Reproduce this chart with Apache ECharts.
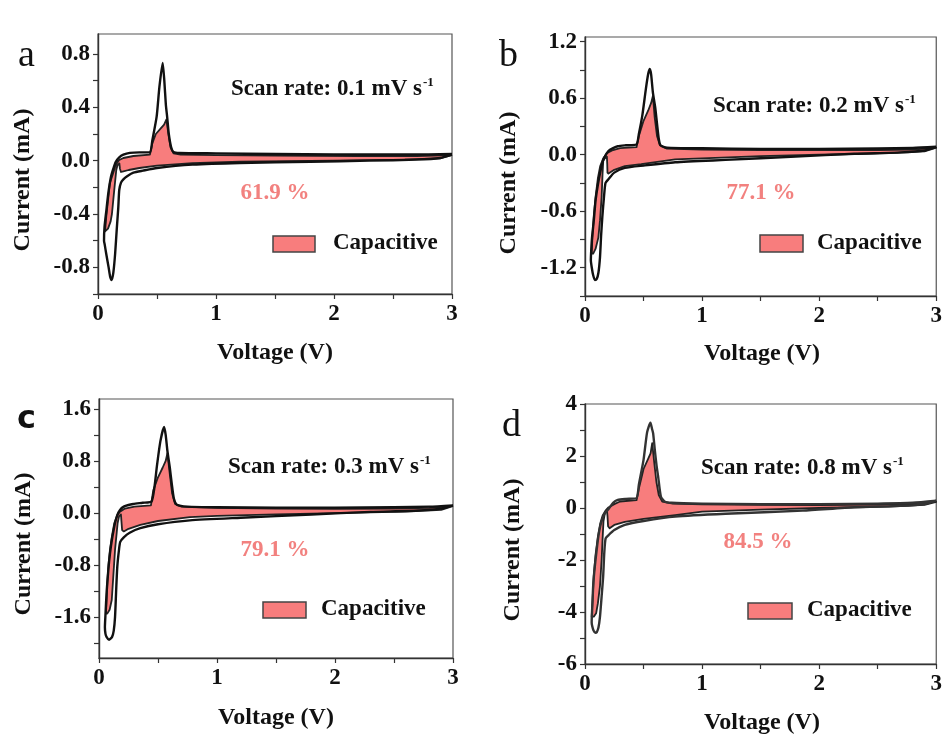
<!DOCTYPE html>
<html>
<head>
<meta charset="utf-8">
<title>CV capacitive contribution</title>
<script src="https://cdn.jsdelivr.net/npm/echarts@6/dist/echarts.min.js"></script>
<style>
  html, body { margin: 0; padding: 0; background: #fff; }
  #chart { width: 945px; height: 736px; }
</style>
</head>
<body>
<div id="chart"></div>
<script>
// Voltage ticks shared by all four panels
const xTicks = [0, 1, 2, 3];
const xMinorTicks = [0.5, 1.5, 2.5];

// Current ticks per panel
const yTicksA = [-0.8, -0.4, 0, 0.4, 0.8];
const yMinorA = [-1.0, -0.6, -0.2, 0.2, 0.6];
const yTicksB = [-1.2, -0.6, 0, 0.6, 1.2];
const yMinorB = [-1.5, -0.9, -0.3, 0.3, 0.9];
const yTicksC = [-1.6, -0.8, 0, 0.8, 1.6];
const yMinorC = [-2.0, -1.2, -0.4, 0.4, 1.2];
const yTicksD = [-6, -4, -2, 0, 2, 4];
const yMinorD = [-5, -3, -1, 1, 3];

const scanRates = ['0.1', '0.2', '0.3', '0.8'];
const capacitiveShare = ['61.9 %', '77.1 %', '79.1 %', '84.5 %'];
const panelLetters = ['a', 'b', 'c', 'd'];

// Measured CV loops [V, mA]: cathodic sweep from 3 V down, then anodic sweep back up
const loopA = [
  [3.0,0.045],[2.9,0.02],[2.7,0.008],[2.3,0.0],[1.8,-0.008],[1.2,-0.017],[0.8,-0.03],[0.5,-0.055],
  [0.38,-0.075],[0.3,-0.09],[0.25,-0.115],[0.215,-0.14],[0.195,-0.165],[0.18,-0.22],[0.172,-0.35],
  [0.16,-0.5],[0.145,-0.7],[0.13,-0.84],[0.116,-0.895],[0.103,-0.87],[0.09,-0.8],[0.07,-0.7],
  [0.057,-0.63],[0.051,-0.6],
  [0.055,-0.5],[0.07,-0.38],[0.088,-0.24],[0.11,-0.12],[0.13,-0.06],[0.15,-0.01],[0.18,0.025],
  [0.215,0.045],[0.27,0.058],[0.35,0.062],[0.44,0.062],[0.46,0.15],[0.497,0.33],[0.52,0.55],
  [0.548,0.733],[0.562,0.6],[0.575,0.42],[0.587,0.32],[0.6,0.2],[0.62,0.1],[0.64,0.065],
  [0.69,0.058],[1.0,0.055],[1.5,0.05],[2.0,0.047],[2.5,0.046],[2.8,0.047],[3.0,0.05]
];
const capA = [
  [0.06,-0.53],[0.07,-0.42],[0.088,-0.27],[0.1,-0.17],[0.13,-0.09],[0.15,-0.03],[0.18,0.005],
  [0.215,0.02],[0.3,0.035],[0.44,0.045],[0.46,0.13],[0.49,0.2],[0.53,0.24],[0.56,0.27],
  [0.58,0.31],[0.595,0.21],[0.615,0.1],[0.64,0.055],[0.7,0.045],[1.0,0.042],[1.5,0.038],
  [2.2,0.035],[2.7,0.035],[3.0,0.042],
  [2.9,0.018],[2.6,0.008],[2.0,0.0],[1.2,-0.008],[0.8,-0.018],[0.5,-0.037],[0.35,-0.055],
  [0.26,-0.07],[0.215,-0.08],[0.195,-0.085],[0.186,-0.06],[0.181,-0.02],[0.165,-0.035],
  [0.155,-0.07],[0.14,-0.2],[0.13,-0.29],[0.118,-0.4],[0.107,-0.455],[0.085,-0.51]
];

const loopB = [
  [3.0,0.08],[2.9,0.045],[2.7,0.025],[2.3,0.01],[1.8,-0.02],[1.2,-0.055],[0.77,-0.08],[0.5,-0.115],
  [0.34,-0.14],[0.25,-0.19],[0.2,-0.26],[0.175,-0.3],[0.162,-0.45],[0.148,-0.66],[0.138,-0.85],
  [0.128,-1.09],[0.115,-1.25],[0.1,-1.32],[0.085,-1.33],[0.07,-1.28],[0.058,-1.2],[0.05,-1.12],
  [0.053,-1.02],[0.06,-0.88],[0.075,-0.7],[0.09,-0.49],[0.11,-0.32],[0.128,-0.2],[0.145,-0.1],
  [0.165,-0.03],[0.2,0.04],[0.24,0.07],[0.28,0.09],[0.35,0.1],[0.44,0.11],[0.46,0.22],
  [0.49,0.42],[0.52,0.7],[0.54,0.86],[0.554,0.91],[0.565,0.85],[0.58,0.66],[0.6,0.5],
  [0.615,0.33],[0.63,0.17],[0.645,0.1],[0.7,0.075],[1.0,0.068],[1.5,0.062],[2.0,0.062],
  [2.5,0.066],[2.8,0.072],[3.0,0.085]
];
const capB = [
  [0.057,-1.05],[0.063,-0.88],[0.075,-0.65],[0.09,-0.45],[0.11,-0.25],[0.13,-0.12],[0.155,-0.04],
  [0.19,0.02],[0.24,0.05],[0.3,0.07],[0.44,0.08],[0.46,0.2],[0.5,0.36],[0.54,0.47],[0.565,0.55],
  [0.58,0.625],[0.595,0.4],[0.615,0.2],[0.64,0.1],[0.7,0.065],[1.0,0.055],[1.5,0.05],[2.0,0.048],
  [2.5,0.05],[2.8,0.055],[3.0,0.075],
  [2.9,0.035],[2.6,0.018],[2.0,0.0],[1.5,-0.015],[1.17,-0.03],[0.77,-0.05],[0.48,-0.1],
  [0.34,-0.12],[0.25,-0.16],[0.2,-0.2],[0.192,-0.19],[0.19,-0.1],[0.187,-0.02],[0.168,-0.04],
  [0.156,-0.064],[0.15,-0.2],[0.142,-0.45],[0.128,-0.7],[0.114,-0.88],[0.09,-1.0],[0.07,-1.05]
];

const loopC = [
  [3.0,0.12],[2.9,0.07],[2.7,0.04],[2.3,0.02],[1.8,-0.02],[1.2,-0.07],[0.77,-0.11],[0.5,-0.17],
  [0.35,-0.23],[0.26,-0.3],[0.21,-0.37],[0.18,-0.44],[0.17,-0.55],[0.155,-0.82],[0.145,-1.2],
  [0.136,-1.59],[0.125,-1.8],[0.11,-1.9],[0.085,-1.94],[0.065,-1.9],[0.055,-1.85],[0.05,-1.75],
  [0.055,-1.55],[0.065,-1.2],[0.08,-0.85],[0.093,-0.62],[0.11,-0.4],[0.125,-0.25],[0.136,-0.15],
  [0.155,-0.03],[0.178,0.05],[0.21,0.1],[0.25,0.125],[0.29,0.14],[0.37,0.16],[0.445,0.18],
  [0.47,0.4],[0.49,0.71],[0.52,1.1],[0.551,1.32],[0.565,1.2],[0.58,0.95],[0.6,0.7],[0.616,0.46],
  [0.635,0.22],[0.66,0.13],[0.75,0.1],[1.0,0.09],[1.5,0.085],[2.0,0.085],[2.5,0.09],
  [2.8,0.1],[3.0,0.12]
];
const capC = [
  [0.059,-1.54],[0.065,-1.3],[0.07,-1.07],[0.08,-0.8],[0.093,-0.56],[0.11,-0.35],[0.13,-0.15],
  [0.155,-0.03],[0.175,0.02],[0.22,0.07],[0.3,0.1],[0.44,0.12],[0.46,0.35],[0.5,0.55],[0.54,0.7],
  [0.565,0.8],[0.58,0.92],[0.6,0.6],[0.62,0.3],[0.645,0.14],[0.7,0.1],[1.0,0.08],[1.5,0.07],
  [2.0,0.065],[2.5,0.07],[2.8,0.08],[3.0,0.11],
  [2.9,0.05],[2.6,0.025],[2.0,0.0],[1.5,-0.02],[1.0,-0.04],[0.77,-0.06],[0.5,-0.12],[0.35,-0.18],
  [0.25,-0.24],[0.21,-0.28],[0.196,-0.26],[0.19,-0.12],[0.186,-0.02],[0.17,-0.05],[0.158,-0.15],
  [0.15,-0.3],[0.136,-0.56],[0.12,-1.0],[0.108,-1.33],[0.09,-1.48],[0.07,-1.54]
];

const loopD = [
  [3.0,0.28],[2.9,0.15],[2.7,0.08],[2.3,0.03],[1.86,-0.1],[1.2,-0.22],[0.77,-0.33],[0.5,-0.5],
  [0.34,-0.65],[0.25,-0.85],[0.2,-1.05],[0.176,-1.17],[0.165,-1.7],[0.155,-2.64],[0.142,-3.4],
  [0.128,-4.18],[0.115,-4.6],[0.1,-4.78],[0.088,-4.8],[0.072,-4.7],[0.062,-4.55],[0.057,-4.4],
  [0.06,-4.0],[0.065,-3.5],[0.071,-2.9],[0.085,-2.2],[0.1,-1.6],[0.114,-1.1],[0.13,-0.7],
  [0.15,-0.4],[0.17,-0.2],[0.2,-0.05],[0.24,0.2],[0.28,0.31],[0.35,0.35],[0.44,0.38],[0.46,0.9],
  [0.5,1.85],[0.53,2.9],[0.559,3.28],[0.572,3.05],[0.582,2.87],[0.597,2.2],[0.612,1.6],
  [0.625,1.2],[0.648,0.44],[0.68,0.25],[0.74,0.2],[1.0,0.17],[1.5,0.15],[2.0,0.15],[2.5,0.17],
  [2.8,0.2],[3.0,0.28]
];
const capD = [
  [0.057,-4.18],[0.065,-3.5],[0.075,-2.6],[0.09,-1.8],[0.11,-1.1],[0.13,-0.6],[0.15,-0.3],
  [0.175,-0.1],[0.2,0.02],[0.25,0.15],[0.3,0.25],[0.44,0.3],[0.46,0.75],[0.5,1.5],[0.54,1.9],
  [0.56,2.1],[0.574,2.49],[0.59,1.8],[0.61,1.0],[0.63,0.5],[0.66,0.25],[0.75,0.17],[1.0,0.14],
  [1.5,0.12],[2.0,0.11],[2.5,0.13],[2.8,0.16],[3.0,0.24],
  [2.9,0.12],[2.6,0.05],[2.0,0.0],[1.5,-0.06],[1.0,-0.14],[0.77,-0.27],[0.5,-0.42],[0.34,-0.53],
  [0.25,-0.65],[0.21,-0.78],[0.197,-0.7],[0.192,-0.3],[0.187,-0.08],[0.17,-0.2],[0.158,-0.5],
  [0.15,-1.2],[0.142,-2.0],[0.128,-3.0],[0.11,-3.67],[0.095,-4.05],[0.075,-4.18]
];

// ---- layout and styling ----
const SERIF = '"Liberation Serif", "Times New Roman", serif';
const FILL = '#f87d7d';
const PCT = '#f2817f';

const panels = [
  { loop: loopA, cap: capA, ticks: yTicksA, minor: yMinorA, min: -1.0, max: 0.95, dec: 1,
    grid: { left: 98, top: 34, width: 354, height: 260 } },
  { loop: loopB, cap: capB, ticks: yTicksB, minor: yMinorB, min: -1.5, max: 1.25, dec: 1,
    grid: { left: 585, top: 37, width: 352, height: 259 } },
  { loop: loopC, cap: capC, ticks: yTicksC, minor: yMinorC, min: -2.22, max: 1.75, dec: 1,
    grid: { left: 99, top: 399, width: 354, height: 259 } },
  { loop: loopD, cap: capD, ticks: yTicksD, minor: yMinorD, min: -6, max: 4, dec: 0,
    grid: { left: 585, top: 404, width: 352, height: 260 } }
];

// text placements per panel
const deco = [
  { letter: [18, 75], letterFont: 'normal 38px ' + SERIF, scan: [231, 89], pct: [275, 193],
    rect: [273, 236, 42, 16], cap: [333, 243], yTitle: [23, 180], xTitle: [275, 353] },
  { letter: [499, 75], letterFont: 'normal 38px ' + SERIF, scan: [713, 106], pct: [761, 193],
    rect: [760, 235, 43, 17], cap: [817, 243], yTitle: [509, 183], xTitle: [762, 354] },
  { letter: [17, 436], letterFont: 'bold 32px "DejaVu Sans", sans-serif', scan: [228, 467], pct: [275, 550],
    rect: [263, 602, 43, 16], cap: [321, 609], yTitle: [24, 544], xTitle: [276, 718] },
  { letter: [502, 445], letterFont: 'normal 38px ' + SERIF, scan: [701, 468], pct: [758, 542],
    rect: [748, 603, 44, 16], cap: [807, 610], yTitle: [513, 550], xTitle: [762, 723] }
];

const axisColor = '#333';
const labelStyle = { color: '#111', fontFamily: SERIF, fontWeight: 'bold', fontSize: 23 };

const grids = [], xAxes = [], yAxes = [], series = [], graphics = [];

panels.forEach((p, i) => {
  grids.push(Object.assign({ show: true, borderColor: '#555', borderWidth: 1.2,
    backgroundColor: 'transparent' }, p.grid));

  xAxes.push({
    type: 'value', gridIndex: i, min: 0, max: 3,
    axisLine: { show: true, onZero: false, lineStyle: { color: axisColor, width: 1.4 } },
    axisTick: { show: true, inside: false, length: 5, customValues: xTicks.concat(xMinorTicks),
      lineStyle: { color: axisColor, width: 1.2 } },
    axisLabel: Object.assign({ customValues: xTicks, margin: 9,
      formatter: v => String(Math.round(v)) }, labelStyle),
    splitLine: { show: false }
  });

  yAxes.push({
    type: 'value', gridIndex: i, min: p.min, max: p.max,
    axisLine: { show: true, onZero: false, lineStyle: { color: axisColor, width: 1.4 } },
    axisTick: { show: true, inside: false, length: 5, customValues: p.ticks.concat(p.minor),
      lineStyle: { color: axisColor, width: 1.2 } },
    axisLabel: Object.assign({ customValues: p.ticks, margin: 8,
      formatter: v => Number(v).toFixed(p.dec) }, labelStyle),
    splitLine: { show: false }
  });

  const capPts = p.cap;
  series.push({
    type: 'custom', xAxisIndex: i, yAxisIndex: i, z: 2, clip: true,
    data: capPts, encode: { x: 0, y: 1 },
    renderItem: (params, api) => {
      if (params.dataIndex !== 0) return null;
      return {
        type: 'polygon',
        shape: { points: capPts.map(pt => api.coord(pt)) },
        style: { fill: FILL, stroke: '#222', lineWidth: 1.8, lineJoin: 'round' }
      };
    }
  });

  series.push({
    type: 'line', xAxisIndex: i, yAxisIndex: i, z: 3,
    data: p.loop, showSymbol: false, symbol: 'none', smooth: 0.2,
    lineStyle: { color: i === 3 ? '#333' : '#111', width: 2.4, join: 'round' }
  });

  const d = deco[i];
  graphics.push({
    type: 'text', x: d.letter[0], y: d.letter[1],
    style: { text: panelLetters[i], font: d.letterFont, fill: '#111', textAlign: 'left', textVerticalAlign: 'bottom' }
  });
  graphics.push({
    type: 'text', x: d.scan[0], y: d.scan[1],
    style: {
      text: '{m|Scan rate: ' + scanRates[i] + ' mV s}{s|-1}',
      textAlign: 'left', textVerticalAlign: 'middle',
      rich: {
        m: { fontFamily: SERIF, fontWeight: 'bold', fontSize: 23, fill: '#111', color: '#111', lineHeight: 26 },
        s: { fontFamily: SERIF, fontWeight: 'bold', fontSize: 13, fill: '#111', color: '#111',
             lineHeight: 26, verticalAlign: 'top', padding: [0, 0, 10, 1] }
      }
    }
  });
  graphics.push({
    type: 'text', x: d.pct[0], y: d.pct[1],
    style: { text: capacitiveShare[i], font: 'bold 23px ' + SERIF, fill: PCT, textAlign: 'center', textVerticalAlign: 'middle' }
  });
  graphics.push({
    type: 'rect', shape: { x: d.rect[0], y: d.rect[1], width: d.rect[2], height: d.rect[3] },
    style: { fill: FILL, stroke: '#444', lineWidth: 1.5 }
  });
  graphics.push({
    type: 'text', x: d.cap[0], y: d.cap[1],
    style: { text: 'Capacitive', font: 'bold 23px ' + SERIF, fill: '#111', textAlign: 'left', textVerticalAlign: 'middle' }
  });
  graphics.push({
    type: 'text', x: d.yTitle[0], y: d.yTitle[1], rotation: Math.PI / 2,
    style: { text: 'Current (mA)', font: 'bold 24px ' + SERIF, fill: '#111', textAlign: 'center', textVerticalAlign: 'middle' }
  });
  graphics.push({
    type: 'text', x: d.xTitle[0], y: d.xTitle[1],
    style: { text: 'Voltage (V)', font: 'bold 24px ' + SERIF, fill: '#111', textAlign: 'center', textVerticalAlign: 'middle' }
  });
});

const chart = echarts.init(document.getElementById('chart'), null, { renderer: 'canvas' });
chart.setOption({
  animation: false,
  backgroundColor: '#fff',
  grid: grids,
  xAxis: xAxes,
  yAxis: yAxes,
  series: series,
  graphic: graphics
});
</script>
</body>
</html>
